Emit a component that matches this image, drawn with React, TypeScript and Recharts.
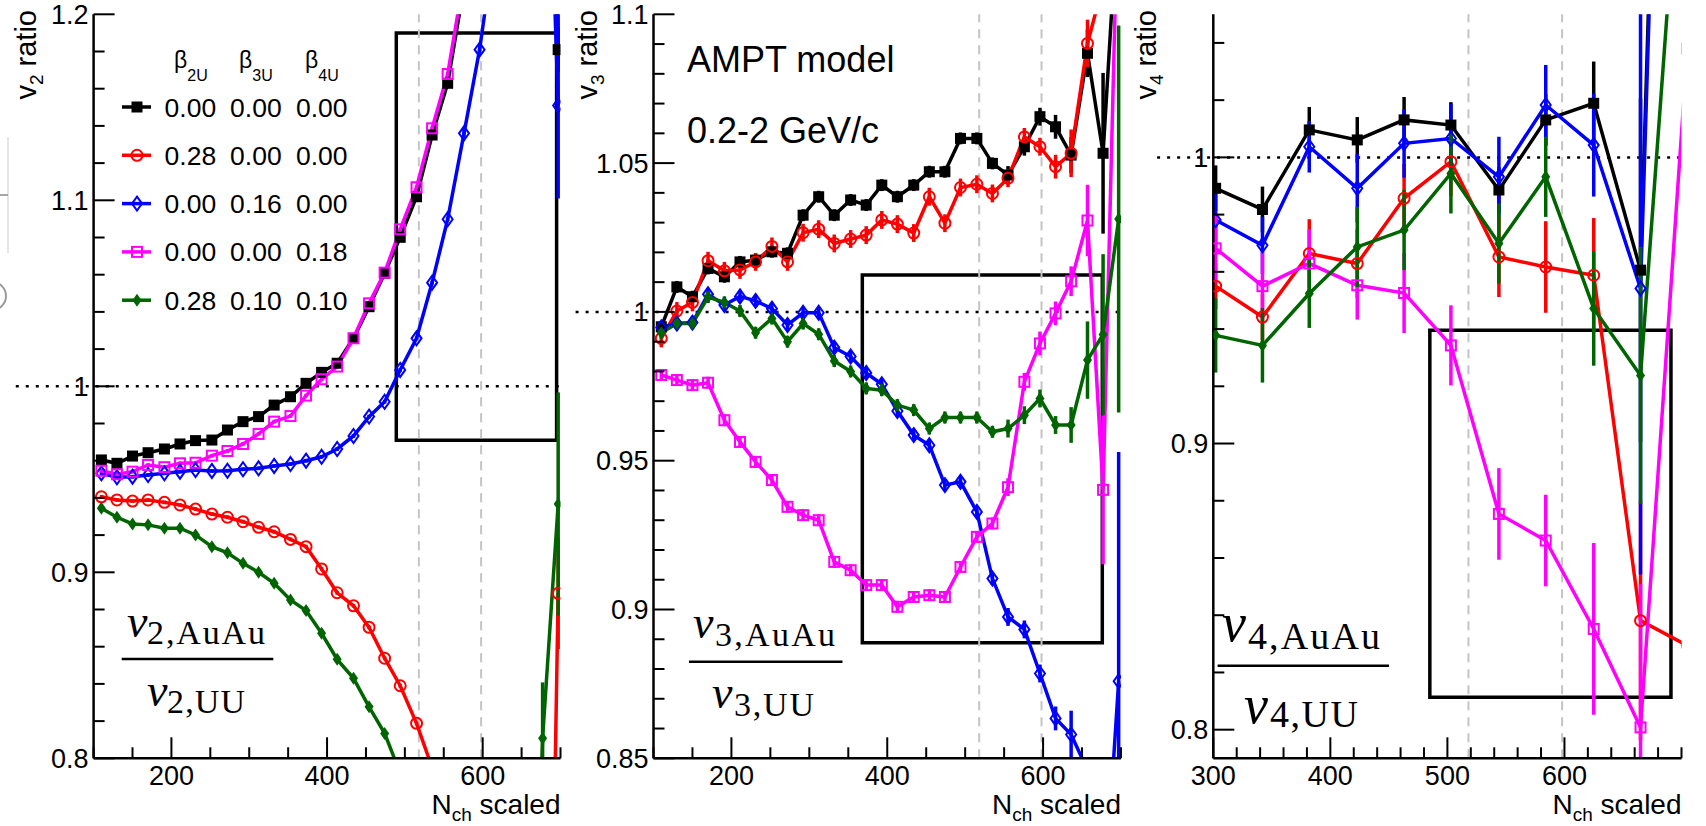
import React from "react";
import { LineChart, Line, XAxis, YAxis, ReferenceLine, ReferenceArea, ErrorBar } from "recharts";

const FONT = "'Liberation Sans', Arial, Helvetica, sans-serif";
const SERIF = "'Liberation Serif', 'Times New Roman', serif";

// N_ch scaled bin centres (v2 and v3 panels)
const binsX = [110, 130, 150, 170, 191, 211, 231, 252, 272, 292, 312, 332, 353, 373, 393, 413, 434, 454, 474, 494, 515, 535, 555, 576, 596, 616, 636, 657, 677, 697];

// v2 ratio
const v2Black = [0.9604, 0.9586, 0.9625, 0.9643, 0.9663, 0.969, 0.9708, 0.9711, 0.9765, 0.981, 0.9837, 0.9899, 0.9944, 1.0016, 1.0075, 1.0124, 1.0258, 1.0428, 1.0608, 1.0801, 1.1019, 1.1351, 1.1629, 1.215, 1.27, 1.33, 1.39, 1.45, 1.5, 1.181];
const v2Red = [0.9406, 0.9389, 0.9383, 0.9389, 0.9376, 0.9362, 0.934, 0.9313, 0.9296, 0.9272, 0.9242, 0.9218, 0.9177, 0.9138, 0.9018, 0.889, 0.882, 0.8704, 0.8538, 0.839, 0.8188, 0.795, 0.77, 0.74, 0.71, 0.68, 0.65, 0.62, 0.4, 0.8887];
const v2Blue = [0.9532, 0.9511, 0.9514, 0.9523, 0.9532, 0.9541, 0.955, 0.9545, 0.9546, 0.9554, 0.9559, 0.9572, 0.9582, 0.96, 0.9621, 0.9663, 0.9733, 0.9837, 0.9917, 1.0088, 1.0258, 1.0557, 1.0898, 1.136, 1.181, 1.24, 1.3, 1.36, 1.4, 1.151];
const v2Magenta = [0.9546, 0.9527, 0.9541, 0.9577, 0.9565, 0.9586, 0.9589, 0.9627, 0.9652, 0.969, 0.9744, 0.981, 0.984, 0.995, 1.0038, 1.0106, 1.0258, 1.0446, 1.0611, 1.0844, 1.107, 1.1387, 1.1679, 1.22, 1.28, 1.34, 1.4, 1.45, 1.45, 1.42];
const v2Green = [0.9344, 0.9296, 0.926, 0.9255, 0.9237, 0.9237, 0.9201, 0.9138, 0.9105, 0.9048, 0.9, 0.8941, 0.8851, 0.8794, 0.8672, 0.8532, 0.843, 0.8277, 0.8134, 0.792, 0.76, 0.73, 0.7, 0.67, 0.64, 0.61, 0.58, 0.55, 0.8108, 0.9367];
const v2BlackErr = [0.001, 0.001, 0.001, 0.001, 0.001, 0.001, 0.001, 0.001, 0.001, 0.001, 0.001, 0.001, 0.001, 0.001, 0.001, 0.001, 0.001, 0.001, 0.001, 0.001, 0.001, 0.001, 0.001, 0.002, 0.002, 0.003, 0.003, 0.004, 0.006, 0.012];
const v2RedErr = [0.001, 0.001, 0.001, 0.001, 0.001, 0.001, 0.001, 0.001, 0.001, 0.001, 0.001, 0.001, 0.001, 0.001, 0.001, 0.001, 0.001, 0.001, 0.001, 0.001, 0.001, 0.001, 0.001, 0.002, 0.002, 0.003, 0.003, 0.006, 0.01, 0.03];
const v2BlueErr = [0.001, 0.001, 0.001, 0.001, 0.001, 0.001, 0.001, 0.001, 0.001, 0.001, 0.001, 0.001, 0.001, 0.001, 0.001, 0.001, 0.001, 0.001, 0.001, 0.001, 0.001, 0.001, 0.001, 0.002, 0.002, 0.003, 0.003, 0.006, 0.02, 0.05];
const v2MagentaErr = [0.001, 0.001, 0.001, 0.001, 0.001, 0.001, 0.001, 0.001, 0.001, 0.001, 0.001, 0.001, 0.001, 0.001, 0.001, 0.001, 0.001, 0.001, 0.001, 0.001, 0.001, 0.001, 0.001, 0.002, 0.002, 0.003, 0.003, 0.006, 0.01, 0.02];
const v2GreenErr = [0.001, 0.001, 0.001, 0.001, 0.001, 0.001, 0.001, 0.001, 0.001, 0.001, 0.001, 0.001, 0.001, 0.001, 0.001, 0.001, 0.001, 0.001, 0.001, 0.001, 0.001, 0.001, 0.001, 0.002, 0.002, 0.003, 0.003, 0.008, 0.03, 0.06];

// v3 ratio
const v3Black = [0.995, 1.0084, 1.0051, 1.0146, 1.0118, 1.0168, 1.0174, 1.0202, 1.0197, 1.0325, 1.0387, 1.0325, 1.0376, 1.0359, 1.0426, 1.0387, 1.0426, 1.0471, 1.0471, 1.0583, 1.0583, 1.0499, 1.046, 1.0555, 1.0656, 1.0622, 1.0527, 1.0869, 1.0533, 1.14];
const v3Red = [0.9911, 1.0003, 1.0032, 1.0172, 1.0138, 1.0141, 1.0168, 1.022, 1.0168, 1.0266, 1.0278, 1.023, 1.0245, 1.0258, 1.0309, 1.0295, 1.0265, 1.0387, 1.0298, 1.0418, 1.0429, 1.0398, 1.0449, 1.0588, 1.0555, 1.0488, 1.0533, 1.0902, 1.11, 1.15];
const v3Blue = [0.9948, 0.9961, 0.9964, 1.0059, 1.0023, 1.0052, 1.0037, 1.0011, 0.9956, 0.9997, 0.9997, 0.988, 0.985, 0.9795, 0.9757, 0.9667, 0.9586, 0.9552, 0.9418, 0.9429, 0.9328, 0.9104, 0.8975, 0.8933, 0.8785, 0.8634, 0.858, 0.846, 0.795, 0.8759];
const v3Magenta = [0.9788, 0.9771, 0.9754, 0.9762, 0.9636, 0.9563, 0.9496, 0.9435, 0.9345, 0.9317, 0.93, 0.916, 0.9132, 0.9082, 0.9082, 0.9009, 0.9042, 0.9048, 0.9042, 0.9143, 0.9244, 0.9289, 0.9411, 0.9765, 0.9894, 0.9995, 1.0103, 1.0307, 0.9402, 1.15];
const v3Green = [0.993, 0.9961, 0.9961, 1.005, 1.0032, 1.0003, 0.993, 0.9978, 0.99, 0.9961, 0.9925, 0.9835, 0.98, 0.9743, 0.9737, 0.9687, 0.967, 0.9608, 0.9645, 0.9645, 0.9645, 0.9597, 0.9608, 0.9653, 0.9709, 0.962, 0.962, 0.9838, 0.9924, 1.0312];
const v3BlackErr = [0.002, 0.002, 0.002, 0.002, 0.002, 0.002, 0.002, 0.002, 0.002, 0.002, 0.002, 0.002, 0.002, 0.002, 0.002, 0.002, 0.002, 0.002, 0.002, 0.002, 0.002, 0.002, 0.003, 0.003, 0.003, 0.004, 0.006, 0.008, 0.027, 0.03];
const v3RedErr = [0.003, 0.003, 0.003, 0.003, 0.003, 0.003, 0.003, 0.003, 0.003, 0.003, 0.003, 0.003, 0.003, 0.003, 0.003, 0.003, 0.003, 0.003, 0.003, 0.003, 0.003, 0.003, 0.003, 0.003, 0.003, 0.004, 0.008, 0.008, 0.02, 0.03];
const v3BlueErr = [0.002, 0.002, 0.002, 0.002, 0.002, 0.002, 0.002, 0.002, 0.002, 0.002, 0.002, 0.002, 0.002, 0.002, 0.002, 0.002, 0.002, 0.002, 0.002, 0.002, 0.002, 0.002, 0.003, 0.003, 0.003, 0.004, 0.008, 0.01, 0.02, 0.077];
const v3MagentaErr = [0.002, 0.002, 0.002, 0.002, 0.002, 0.002, 0.002, 0.002, 0.002, 0.002, 0.002, 0.002, 0.002, 0.002, 0.002, 0.002, 0.002, 0.002, 0.002, 0.002, 0.002, 0.002, 0.003, 0.003, 0.004, 0.004, 0.005, 0.012, 0.025, 0.03];
const v3GreenErr = [0.002, 0.002, 0.002, 0.002, 0.002, 0.002, 0.002, 0.002, 0.002, 0.002, 0.002, 0.002, 0.002, 0.002, 0.002, 0.002, 0.002, 0.002, 0.002, 0.002, 0.002, 0.002, 0.003, 0.003, 0.003, 0.003, 0.006, 0.013, 0.027, 0.065];

// v4 ratio, wider bins
const binsX4 = [302, 342, 382, 423, 463, 503, 544, 584, 625, 665, 705];
const v4Black = [0.9892, 0.9818, 1.0096, 1.0061, 1.0131, 1.0113, 0.9886, 1.0131, 1.0189, 0.9606, 1.5];
const v4Red = [0.955, 0.9442, 0.9664, 0.9629, 0.9857, 0.9985, 0.9652, 0.9617, 0.9588, 0.8381, 0.8294];
const v4Blue = [0.9781, 0.9693, 1.0037, 0.9892, 1.0049, 1.0066, 0.9932, 1.0183, 1.0043, 0.9542, 1.48];
const v4Magenta = [0.9682, 0.955, 0.9629, 0.9553, 0.9526, 0.9343, 0.8754, 0.8661, 0.8352, 0.8008, 1.038];
const v4Green = [0.9378, 0.9343, 0.9524, 0.9687, 0.9746, 0.9944, 0.9699, 0.9932, 0.9472, 0.9238, 1.147];
const v4BlackErr = [0.008, 0.008, 0.008, 0.008, 0.008, 0.008, 0.008, 0.009, 0.0146, 0.06, 0];
const v4RedErr = [0.008, 0.008, 0.012, 0.012, 0.012, 0.012, 0.014, 0.016, 0.02, 0.042, 0];
const v4BlueErr = [0.01, 0.01, 0.009, 0.012, 0.012, 0.012, 0.014, 0.014, 0.018, 0.1, 0];
const v4MagentaErr = [0.012, 0.012, 0.012, 0.012, 0.014, 0.014, 0.016, 0.016, 0.03, 0.05, 0];
const v4GreenErr = [0.013, 0.013, 0.012, 0.014, 0.014, 0.014, 0.014, 0.014, 0.02, 0.045, 0];

// legend: deformation parameters of U
const seriesKeys = ["black", "red", "blue", "magenta", "green"];
const seriesColors = ["#000000", "#ff0000", "#0000ff", "#ff00ff", "#006400"];
const seriesMarkers = ["fsquare", "ocircle", "odiamond", "osquare", "fdiamond"];
const beta2 = ["0.00", "0.28", "0.00", "0.00", "0.28"];
const beta3 = ["0.00", "0.00", "0.16", "0.00", "0.10"];
const beta4 = ["0.00", "0.00", "0.00", "0.18", "0.10"];

// ticks
const xTicks12 = [100, 150, 200, 250, 300, 350, 400, 450, 500, 550, 600, 650, 700];
const xMajor12 = [200, 400, 600];
const yTicks1 = [0.8, 0.82, 0.84, 0.86, 0.88, 0.9, 0.92, 0.94, 0.96, 0.98, 1, 1.02, 1.04, 1.06, 1.08, 1.1, 1.12, 1.14, 1.16, 1.18, 1.2];
const yMajor1 = [0.8, 0.9, 1, 1.1, 1.2];
const yTicks2 = [0.85, 0.86, 0.87, 0.88, 0.89, 0.9, 0.91, 0.92, 0.93, 0.94, 0.95, 0.96, 0.97, 0.98, 0.99, 1, 1.01, 1.02, 1.03, 1.04, 1.05, 1.06, 1.07, 1.08, 1.09, 1.1];
const yMajor2 = [0.85, 0.9, 0.95, 1, 1.05, 1.1];
const xTicks3 = [300, 320, 340, 360, 380, 400, 420, 440, 460, 480, 500, 520, 540, 560, 580, 600, 620, 640, 660, 680, 700];
const xMajor3 = [300, 400, 500, 600];
const yTicks3 = [0.8, 0.82, 0.84, 0.86, 0.88, 0.9, 0.92, 0.94, 0.96, 0.98, 1, 1.02, 1.04];
const yMajor3 = [0.8, 0.9, 1];

// zoom boxes [x1, x2, y1, y2] and centrality lines
const box2 = [489, 695, 0.971, 1.19];
const box3 = [368, 676, 0.8888, 1.0124];
const box4 = [485, 691, 0.8113, 0.9396];
const dashedX = [518, 598];

// error bars are cut at the frame like the lines are
const rows = (xs: number[], vals: number[][], errs: number[][], dom: number[]) =>
  xs.map((x, i) => {
    const r: any = { x };
    seriesKeys.forEach((k, j) => {
      const v = vals[j][i];
      const e = errs[j][i];
      r[k] = v;
      r[k + "Err"] = v < dom[0] || v > dom[1] ? [0, 0] : [Math.min(e, v - dom[0]), Math.min(e, dom[1] - v)];
    });
    return r;
  });

const rows2 = rows(binsX, [v2Black, v2Red, v2Blue, v2Magenta, v2Green], [v2BlackErr, v2RedErr, v2BlueErr, v2MagentaErr, v2GreenErr], [0.8, 1.2]);
const rows3 = rows(binsX, [v3Black, v3Red, v3Blue, v3Magenta, v3Green], [v3BlackErr, v3RedErr, v3BlueErr, v3MagentaErr, v3GreenErr], [0.85, 1.1]);
const rows4 = rows(binsX4, [v4Black, v4Red, v4Blue, v4Magenta, v4Green], [v4BlackErr, v4RedErr, v4BlueErr, v4MagentaErr, v4GreenErr], [0.79, 1.05]);

function marker(kind: string, cx: number, cy: number, color: string) {
  switch (kind) {
    case "fsquare":
      return <rect x={cx - 5.5} y={cy - 5.5} width={11} height={11} fill={color} />;
    case "osquare":
      return <rect x={cx - 5} y={cy - 5} width={10} height={10} fill="none" stroke={color} strokeWidth={2} />;
    case "ocircle":
      return <circle cx={cx} cy={cy} r={5.5} fill="none" stroke={color} strokeWidth={2} />;
    case "odiamond":
      return <polygon points={`${cx},${cy - 7} ${cx + 5},${cy} ${cx},${cy + 7} ${cx - 5},${cy}`} fill="none" stroke={color} strokeWidth={2} />;
    default:
      return <polygon points={`${cx},${cy - 6.5} ${cx + 4.5},${cy} ${cx},${cy + 6.5} ${cx - 4.5},${cy}`} fill={color} />;
  }
}

const makeDot = (kind: string, color: string) => (p: any) => (
  <g key={"d" + p.index}>{p.cx == null || p.cy == null ? null : marker(kind, p.cx, p.cy, color)}</g>
);

// inward ROOT-style ticks, labels only on left/bottom
const makeTick = (side: string, majors: number[], labels: boolean) => (p: any) => {
  const v = p.payload.value;
  const major = majors.indexOf(v) >= 0;
  const len = major ? 21 : 11;
  const { x, y } = p;
  let l: any;
  let t: any = null;
  if (side === "bottom") {
    l = <line x1={x} y1={y} x2={x} y2={y - len} />;
    if (major && labels) t = <text x={x} y={y + 27} textAnchor="middle">{String(v)}</text>;
  } else if (side === "top") {
    l = <line x1={x} y1={y} x2={x} y2={y + len} />;
  } else if (side === "left") {
    l = <line x1={x} y1={y} x2={x + len} y2={y} />;
    if (major && labels) t = <text x={x - 5} y={y + 9.5} textAnchor="end">{String(v)}</text>;
  } else {
    l = <line x1={x} y1={y} x2={x - len} y2={y} />;
  }
  return (
    <g stroke="none" fill="#000" fontFamily={FONT} fontSize={27}>
      <g stroke="#000" strokeWidth={2}>{l}</g>
      {t}
    </g>
  );
};

const axisLine = { stroke: "#000", strokeWidth: 2.5 };

function Panel(props: any) {
  const { left, width, data, xDomain, yDomain, xTicks, xMajor, yTicks, yMajor, mLeft, mRight, box, dotFrom } = props;
  return (
    <div style={{ position: "absolute", left, top: 0 }}>
      <LineChart width={width} height={826} data={data} margin={{ top: 14.3, right: mRight, bottom: 27.7, left: mLeft }}>
        <XAxis dataKey="x" type="number" domain={xDomain} allowDataOverflow ticks={xTicks} interval={0}
          tickSize={0} tickMargin={0} tickLine={false} axisLine={axisLine} tick={makeTick("bottom", xMajor, true)} height={40} />
        <XAxis xAxisId="top" orientation="top" dataKey="x" type="number" domain={xDomain} allowDataOverflow ticks={xTicks} interval={0}
          tickSize={0} tickMargin={0} tickLine={false} axisLine={axisLine} tick={makeTick("top", xMajor, false)} height={0} />
        <YAxis type="number" domain={yDomain} allowDataOverflow ticks={yTicks} interval={0}
          tickSize={0} tickMargin={0} tickLine={false} axisLine={axisLine} tick={makeTick("left", yMajor, true)} width={60} />
        <YAxis yAxisId="right" orientation="right" type="number" domain={yDomain} allowDataOverflow ticks={yTicks} interval={0}
          tickSize={0} tickMargin={0} tickLine={false} axisLine={axisLine} tick={makeTick("right", yMajor, false)} width={0} />
        {dashedX.map((dx) => (
          <ReferenceLine key={dx} x={dx} stroke="#c4c4c4" strokeWidth={2} strokeDasharray="9 7" />
        ))}
        <ReferenceLine segment={[{ x: dotFrom, y: 1 }, { x: xDomain[1], y: 1 }]} ifOverflow="visible"
          stroke="#000" strokeWidth={2.5} strokeDasharray="3 7" />
        <ReferenceArea x1={box[0]} x2={box[1]} y1={box[2]} y2={box[3]} ifOverflow="visible"
          fill="none" fillOpacity={0} stroke="#000" strokeWidth={3.5} />
        {seriesKeys.map((k, i) => (
          <Line key={k} dataKey={k} type="linear" stroke={seriesColors[i]} strokeWidth={3.5}
            dot={makeDot(seriesMarkers[i], seriesColors[i])} isAnimationActive={false}>
            <ErrorBar dataKey={k + "Err"} direction="y" width={0} stroke={seriesColors[i]} strokeWidth={3.5} />
          </Line>
        ))}
      </LineChart>
    </div>
  );
}

function Fraction(props: any) {
  const { n, vx, vy, sx, sy, sw, bx1, bx2, by, dvx, dvy, dsx, dsy, dsw, vs, ss } = props;
  return (
    <g fill="#000" fontFamily={SERIF}>
      <text x={vx} y={vy} fontStyle="italic" fontSize={vs}>v</text>
      <text x={sx} y={sy} fontSize={ss} textLength={sw} lengthAdjust="spacing">{n},AuAu</text>
      <line x1={bx1} x2={bx2} y1={by} y2={by} stroke="#000" strokeWidth={2.5} />
      <text x={dvx} y={dvy} fontStyle="italic" fontSize={vs}>v</text>
      <text x={dsx} y={dsy} fontSize={ss} textLength={dsw} lengthAdjust="spacing">{n},UU</text>
    </g>
  );
}

function Overlay() {
  const colX = [164.6, 230.1, 296];
  const betaX = [174, 239, 305];
  const betaSub = ["2U", "3U", "4U"];
  return (
    <svg width={1706} height={826} style={{ position: "absolute", left: 0, top: 0, pointerEvents: "none" }}>
      {/* y titles */}
      {[[36, "2"], [597, "3"], [1156, "4"]].map(([bx, n]: any) => (
        <text key={n} transform={`translate(${bx},10) rotate(-90)`} textAnchor="end" fontFamily={FONT} fontSize={29}>
          v<tspan fontSize={19} dy={7}>{n}</tspan><tspan dy={-7}> ratio</tspan>
        </text>
      ))}
      {/* x titles */}
      {[560.5, 1121, 1681.5].map((rx) => (
        <text key={rx} x={rx} y={814} textAnchor="end" fontFamily={FONT} fontSize={28}>
          N<tspan fontSize={19} dy={7}>ch</tspan><tspan dy={-7}> scaled</tspan>
        </text>
      ))}
      <text x={687} y={72} fontFamily={FONT} fontSize={36}>AMPT model</text>
      <text x={687} y={143} fontFamily={FONT} fontSize={36}>0.2-2 GeV/c</text>
      {/* legend */}
      {betaX.map((bx, i) => (
        <text key={bx} x={bx} y={68} fontFamily={FONT} fontSize={23}>
          β<tspan fontSize={16} dy={13}>{betaSub[i]}</tspan>
        </text>
      ))}
      {seriesKeys.map((k, i) => {
        const cy = 107 + i * 48.3;
        return (
          <g key={k}>
            <line x1={122} x2={151} y1={cy} y2={cy} stroke={seriesColors[i]} strokeWidth={3.5} />
            {marker(seriesMarkers[i], 137, cy, seriesColors[i])}
            {[beta2[i], beta3[i], beta4[i]].map((b, j) => (
              <text key={j} x={colX[j]} y={cy + 9.5} fontFamily={FONT} fontSize={26.5}>{b}</text>
            ))}
          </g>
        );
      })}
      <Fraction n="2" vx={127} vy={637} sx={147} sy={644} sw={118} bx1={121.7} bx2={273.3} by={659}
        dvx={147} dvy={706} dsx={167} dsy={713} dsw={78} vs={46} ss={34} />
      <Fraction n="3" vx={693} vy={638} sx={715} sy={646} sw={120} bx1={689} bx2={842.5} by={661.7}
        dvx={712} dvy={708} dsx={734} dsy={716} dsw={80} vs={46} ss={34} />
      <Fraction n="4" vx={1222} vy={641} sx={1248} sy={649} sw={132} bx1={1217.6} bx2={1389} by={665.7}
        dvx={1244} dvy={723} dsx={1270} dsy={727} dsw={88} vs={54} ss={38} />
      {/* screenshot remnants at the left edge */}
      <line x1={8} y1={137} x2={8} y2={253} stroke="#dddddd" strokeWidth={1.5} />
      <line x1={0} y1={195} x2={8} y2={195} stroke="#888888" strokeWidth={1.5} />
      <circle cx={-8} cy={296} r={14} fill="none" stroke="#999999" strokeWidth={2} />
    </svg>
  );
}

export default function App() {
  return (
    <div style={{ position: "relative", width: 1706, height: 826, background: "#fff", overflow: "hidden" }}>
      <style>{"body{margin:0}"}</style>
      <Panel left={0} width={570} data={rows2} xDomain={[100, 700]} yDomain={[0.8, 1.2]} xTicks={xTicks12} xMajor={xMajor12}
        yTicks={yTicks1} yMajor={yMajor1} mLeft={33.6} mRight={9.5} box={box2} dotFrom={0} />
      <Panel left={560} width={580} data={rows3} xDomain={[100, 700]} yDomain={[0.85, 1.1]} xTicks={xTicks12} xMajor={xMajor12}
        yTicks={yTicks2} yMajor={yMajor2} mLeft={33.5} mRight={19} box={box3} dotFrom={0} />
      <Panel left={1110} width={596} data={rows4} xDomain={[300, 700]} yDomain={[0.79, 1.05]} xTicks={xTicks3} xMajor={xMajor3}
        yTicks={yTicks3} yMajor={yMajor3} mLeft={43.3} mRight={24.5} box={box4} dotFrom={252} />
      <Overlay />
    </div>
  );
}
